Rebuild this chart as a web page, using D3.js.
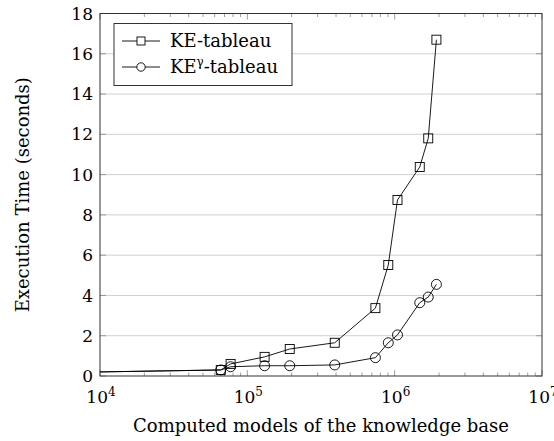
<!DOCTYPE html>
<html>
<head>
<meta charset="utf-8">
<script src="https://cdn.jsdelivr.net/npm/d3@7"></script>
<style>
body { margin: 0; background: white; }
text { font-family: "DejaVu Serif", serif; fill: black; }
</style>
</head>
<body>
<div id="chart"></div>
<script>
var svgWidth = 554
var svgHeight = 441
var margin = {left: 100, right: 12, top: 13.5, bottom: 65}

// data; first point lies left of the axis and is clipped
var models = [2000, 66000, 77000, 131000, 194000, 392000, 740000, 905000, 1045000, 1480000, 1690000, 1920000]
var keTime = [0.12, 0.3, 0.6, 0.95, 1.34, 1.65, 3.37, 5.51, 8.74, 10.38, 11.8, 16.7]
var keGammaTime = [0.12, 0.3, 0.46, 0.51, 0.51, 0.55, 0.91, 1.65, 2.04, 3.64, 3.92, 4.55]
var xTickExp = [4, 5, 6, 7]
var yTicks = [0, 2, 4, 6, 8, 10, 12, 14, 16, 18]

var plotW = svgWidth - margin.left - margin.right
var plotH = svgHeight - margin.top - margin.bottom

var svg = d3.select('div#chart')
	.append('svg')
	.attr('width', svgWidth)
	.attr('height', svgHeight)

var x = d3.scaleLog()
	.domain([1e4, 1e7])
	.range([margin.left, margin.left + plotW])
var y = d3.scaleLinear()
	.domain([0, 18])
	.range([margin.top + plotH, margin.top])

svg.append('clipPath')
	.attr('id', 'plot-clip')
	.append('rect')
	.attr('x', margin.left)
	.attr('y', margin.top)
	.attr('width', plotW)
	.attr('height', plotH)

// horizontal grid
svg.append('g')
	.selectAll('line')
	.data(yTicks.slice(1, -1))
	.enter()
	.append('line')
	.attr('x1', margin.left)
	.attr('x2', margin.left + plotW)
	.attr('y1', function(d){return y(d)})
	.attr('y2', function(d){return y(d)})
	.attr('stroke', '#d0d0d0')
	.attr('stroke-width', 1)

// ticks on all four sides, pointing inward
var ticksGroup = svg.append('g').attr('stroke', '#888').attr('stroke-width', 0.8)
var minorX = []
for (var e = 4; e < 7; e++) {
	for (var m = 2; m <= 9; m++) minorX.push(m * Math.pow(10, e))
}
var xTickData = xTickExp.map(function(e){return {v: Math.pow(10, e), len: 6}})
	.concat(minorX.map(function(v){return {v: v, len: 3.5}}))
xTickData.forEach(function(t) {
	var px = x(t.v)
	ticksGroup.append('line').attr('x1', px).attr('x2', px)
		.attr('y1', margin.top + plotH).attr('y2', margin.top + plotH - t.len)
	ticksGroup.append('line').attr('x1', px).attr('x2', px)
		.attr('y1', margin.top).attr('y2', margin.top + t.len)
})
yTicks.forEach(function(v) {
	ticksGroup.append('line').attr('x1', margin.left).attr('x2', margin.left + 6)
		.attr('y1', y(v)).attr('y2', y(v))
	ticksGroup.append('line').attr('x1', margin.left + plotW).attr('x2', margin.left + plotW - 6)
		.attr('y1', y(v)).attr('y2', y(v))
})

// tick labels
svg.append('g')
	.selectAll('text')
	.data(yTicks)
	.enter()
	.append('text')
	.attr('x', margin.left - 7)
	.attr('y', function(d){return y(d)})
	.attr('dy', '0.36em')
	.attr('text-anchor', 'end')
	.style('font-size', '17px')
	.text(function(d){return d})

// the 10^7 label runs past the right edge, as in the original
var xLabels = svg.append('g')
	.selectAll('text')
	.data(xTickExp)
	.enter()
	.append('text')
	.attr('x', function(d){return x(Math.pow(10, d)) + 1})
	.attr('y', margin.top + plotH + 27)
	.attr('text-anchor', 'middle')
	.style('font-size', '17px')
xLabels.append('tspan').text('10')
xLabels.append('tspan')
	.attr('dy', -7)
	.style('font-size', '12px')
	.text(function(d){return d})

// axis titles
svg.append('text')
	.attr('x', margin.left + plotW / 2)
	.attr('y', 432)
	.attr('text-anchor', 'middle')
	.style('font-size', '18px')
	.text('Computed models of the knowledge base')

svg.append('text')
	.attr('transform', 'translate(29,' + (margin.top + plotH / 2) + ') rotate(-90)')
	.attr('text-anchor', 'middle')
	.style('font-size', '18px')
	.text('Execution Time (seconds)')

// lines
var line = d3.line()
	.x(function(d){return x(d[0])})
	.y(function(d){return y(d[1])})

var series = [
	{name: 'ke', values: d3.zip(models, keTime), marker: 'square'},
	{name: 'keg', values: d3.zip(models, keGammaTime), marker: 'circle'}
]

var plotGroup = svg.append('g')
series.forEach(function(s) {
	plotGroup.append('path')
		.attr('d', line(s.values))
		.attr('clip-path', 'url(#plot-clip)')
		.attr('fill', 'none')
		.attr('stroke', 'black')
		.attr('stroke-width', 0.9)
})

var drawMarker = function(group, type, cx, cy) {
	if (type === 'square') {
		group.append('rect')
			.attr('x', cx - 4.5).attr('y', cy - 4.5)
			.attr('width', 9).attr('height', 9)
			.attr('fill', 'none')
			.attr('stroke', 'black').attr('stroke-width', 0.9)
	} else {
		group.append('circle')
			.attr('cx', cx).attr('cy', cy).attr('r', 5)
			.attr('fill', 'none')
			.attr('stroke', 'black').attr('stroke-width', 0.9)
	}
}

series.forEach(function(s) {
	s.values.forEach(function(d) {
		if (d[0] < 1e4) return
		drawMarker(plotGroup, s.marker, x(d[0]), y(d[1]))
	})
})

// axis frame
svg.append('rect')
	.attr('x', margin.left)
	.attr('y', margin.top)
	.attr('width', plotW)
	.attr('height', plotH)
	.attr('fill', 'none')
	.attr('stroke', '#333')
	.attr('stroke-width', 1)

// legend
var legend = svg.append('g')
legend.append('rect')
	.attr('x', 114).attr('y', 23.5)
	.attr('width', 178).attr('height', 62)
	.attr('fill', 'white')
	.attr('stroke', '#333').attr('stroke-width', 1)
var legendRows = [
	{label: 'KE', marker: 'square', cy: 41},
	{label: 'KE', sup: 'γ', marker: 'circle', cy: 67}
]
legendRows.forEach(function(r) {
	legend.append('line')
		.attr('x1', 122).attr('x2', 160)
		.attr('y1', r.cy).attr('y2', r.cy)
		.attr('stroke', 'black').attr('stroke-width', 0.9)
	if (r.marker === 'square') {
		legend.append('rect')
			.attr('x', 137).attr('y', r.cy - 4)
			.attr('width', 8).attr('height', 8)
			.attr('fill', 'white')
			.attr('stroke', 'black').attr('stroke-width', 0.9)
	} else {
		legend.append('circle')
			.attr('cx', 141).attr('cy', r.cy).attr('r', 4.2)
			.attr('fill', 'white')
			.attr('stroke', 'black').attr('stroke-width', 0.9)
	}
	var t = legend.append('text')
		.attr('x', 170).attr('y', r.cy + 6)
		.style('font-size', '18px')
	t.append('tspan').text(r.label)
	if (r.sup) {
		t.append('tspan').attr('dy', -7).style('font-size', '12px').text(r.sup)
		t.append('tspan').attr('dy', 7).text('-tableau')
	} else {
		t.append('tspan').text('-tableau')
	}
})
</script>
</body>
</html>
